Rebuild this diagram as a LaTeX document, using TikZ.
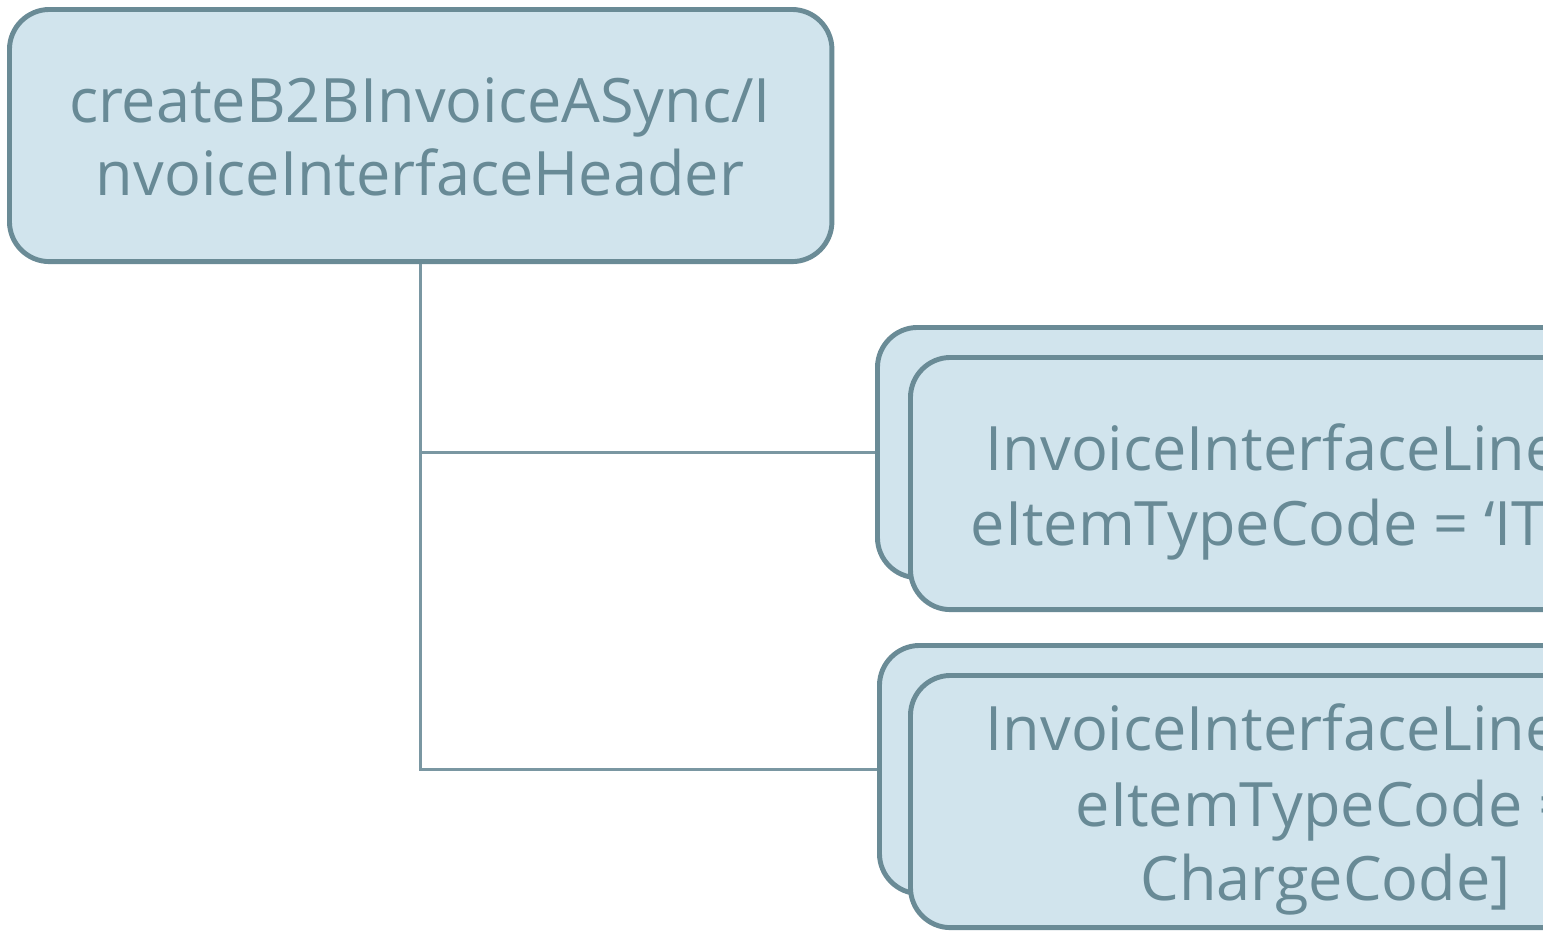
\documentclass[tikz,border=0pt]{standalone}
\usepackage{fontspec}
\setmainfont{Open Sans}
\definecolor{boxfill}{RGB}{209,228,237}
\definecolor{boxline}{RGB}{106,139,150}
\definecolor{txt}{RGB}{104,138,150}
\definecolor{conn}{RGB}{122,151,162}
\begin{document}
\begin{tikzpicture}[x=0.01cm,y=-0.01cm,
  box/.style={draw=boxline,fill=boxfill,line width=1.4pt,rounded corners=0.4cm,anchor=north west,inner sep=0pt},
  lbl/.style={text=txt,font=\fontsize{17.4}{20}\selectfont,inner sep=0pt},
  conline/.style={draw=conn,line width=0.75pt}]
\useasboundingbox (0,0) rectangle (1543,930);
\clip (0,0) rectangle (1543,930);
% top box
\node[box,minimum width=8.22cm,minimum height=2.52cm] (top) at (7,7) {};
\node[lbl,anchor=base] (t1) at (420,122) {createB2BInvoiceASync/I};
\node[lbl,anchor=base] (t2) at (420,195) {nvoiceInterfaceHeader};
% middle boxes
\node[box,minimum width=9cm,minimum height=2.5cm] (mb) at (875,325) {};
\node[box,minimum width=9cm,minimum height=2.52cm] (mf) at (908,355) {};
\node[lbl,anchor=base west] (m1) at (985,470) {InvoiceInterfaceLine};
\node[lbl,anchor=base west] (m2) at (970,545) {eItemTypeCode = ‘IT};
% bottom boxes
\node[box,minimum width=9cm,minimum height=2.48cm] (bb) at (877,643) {};
\node[box,minimum width=9cm,minimum height=2.52cm] (bf) at (908,673) {};
\node[lbl,anchor=base west] (b1) at (985,750) {InvoiceInterfaceLine};
\node[lbl,anchor=base west] (b2) at (1075,826) {eItemTypeCode =};
\node[lbl,anchor=base west] (b3) at (1140,900) {ChargeCode]};
% connectors
\draw[conline] (top.south) -- (top.south |- bb.west) -- (bb.west);
\draw[conline] (top.south |- mb.west) -- (mb.west);
\end{tikzpicture}
\end{document}
